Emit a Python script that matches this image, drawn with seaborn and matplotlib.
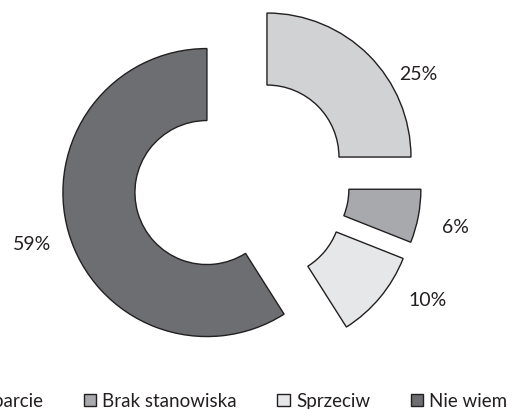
import numpy as np
import matplotlib
matplotlib.use("Agg")
import matplotlib.pyplot as plt
import seaborn as sns

# Survey answers and their shares (%)
categories = ["Poparcie", "Brak stanowiska", "Sprzeciw", "Nie wiem"]
shares = [25, 6, 10, 59]
colors = ["#d1d2d4", "#a7a9ac", "#e6e7e8", "#6d6e71"]

sns.set_theme(style="white")
plt.rcParams["font.family"] = ["Lato", "DejaVu Sans"]

fig = plt.figure(figsize=(5.2, 4.1), dpi=100)
ax = fig.add_axes([0, 0, 1, 1])

wedges, _ = ax.pie(
    shares,
    startangle=90,
    counterclock=False,
    explode=[0.25] * len(shares),
    radius=1.0,
    colors=colors,
    wedgeprops=dict(width=0.5, edgecolor="#231f20", linewidth=1.0),
)

# Percent labels outside each ring segment
angle_shift = [-16, -1, 9, 0]
label_dist = [1.20, 1.265, 1.28, 1.265]
for w, v, da, d in zip(wedges, shares, angle_shift, label_dist):
    mid = np.deg2rad(0.5 * (w.theta1 + w.theta2) + da)
    cx, cy = w.center
    ax.text(cx + d * np.cos(mid), cy + d * np.sin(mid), f"{v}%",
            ha="center", va="center", fontsize=14, color="#231f20")

# 1 data unit = 144 px in both directions
ax.set_xlim(-241.5 / 144, (520 - 241.5) / 144)
ax.set_ylim(-226.5 / 144, (410 - 226.5) / 144)
ax.set_aspect("auto")
ax.axis("off")

fig.legend(
    wedges, categories,
    loc="center", bbox_to_anchor=(230 / 520, 8 / 410),
    ncol=4, frameon=False, fontsize=13.5,
    handlelength=0.65, handleheight=0.6, handletextpad=0.35,
    columnspacing=2.15, labelcolor="#231f20",
)

fig.savefig("out.png", dpi=100)
